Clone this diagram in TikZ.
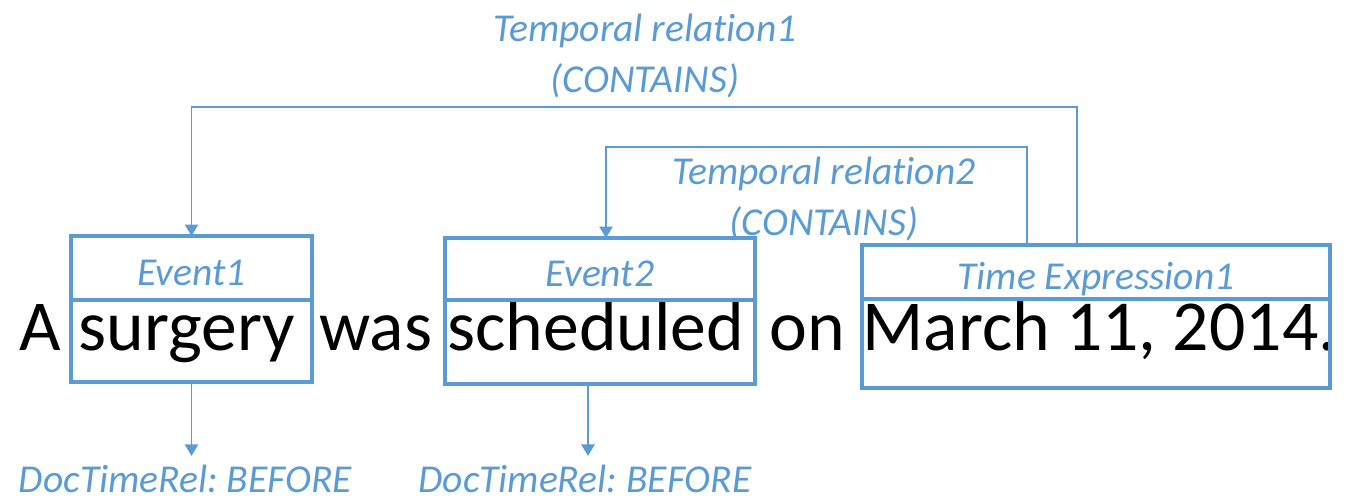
\documentclass[tikz,border=0pt]{standalone}
\usepackage{fontspec}
\setmainfont{Carlito}[Ligatures=NoCommon]
\frenchspacing
\usetikzlibrary{positioning, arrows.meta}
\definecolor{relblue}{RGB}{91,155,213}

\begin{document}
\begin{tikzpicture}[
    word/.style={font=\fontsize{40.8}{48}\selectfont, inner sep=0pt, anchor=base west},
    tag/.style={draw=relblue, line width=2pt, outer sep=0pt, inner sep=0pt,
        font=\fontsize{22.5}{27}\selectfont\itshape, text=relblue,
        text height=0.7cm, text depth=0pt},
    wordbox/.style={draw=relblue, line width=2pt, outer sep=0pt, inner sep=0pt},
    rellabel/.style={font=\fontsize{22.5}{28.5}\selectfont\itshape, text=relblue, align=center},
    link/.style={relblue, line width=1.1pt, -{Triangle[width=7.5pt, length=6.5pt]}},
]
    \useasboundingbox (0,0) rectangle (27.26,10);

    % The sentence
    \node[word] (wA) at (0.38, 2.98) {A};
    \node[word] (wSurgery) at (1.56, 2.98) {surgery};
    \node[word] (wWas) at (6.38, 2.98) {was};
    \node[word] (wScheduled) at (8.94, 2.98) {scheduled};
    \node[word] (wOn) at (15.38, 2.98) {on};
    \node[word] (wDate) at (17.24, 2.98) {March 11, 2014.};

    % Annotation boxes: tag on top, word part below
    \node[tag, minimum width=4.82cm, minimum height=1.28cm] (ev1) at (3.83, 4.64) {Event1};
    \node[wordbox, minimum width=4.82cm, minimum height=1.64cm, below=0pt of ev1] (ev1box) {};

    \node[tag, minimum width=6.2cm, minimum height=1.24cm] (ev2) at (12.0, 4.62) {Event2};
    \node[wordbox, minimum width=6.2cm, minimum height=1.68cm, below=0pt of ev2] (ev2box) {};

    \node[tag, minimum width=9.36cm, minimum height=1.08cm] (tx1) at (21.92, 4.56) {Time Expression1};
    \node[wordbox, minimum width=9.36cm, minimum height=1.78cm, below=0pt of tx1] (tx1box) {};

    % DocTimeRel of each event
    \node[rellabel, anchor=base, inner ysep=5pt] (dtr1) at (3.71, 0.15) {DocTimeRel: BEFORE};
    \node[rellabel, anchor=base, inner ysep=5pt] (dtr2) at (11.7, 0.15) {DocTimeRel: BEFORE};
    \draw[link] (ev1box) -- (ev1box |- dtr1.north);
    \draw[link] ([xshift=-0.24cm]ev2box.south) -- ([xshift=-0.24cm]ev2box.south |- dtr2.north);

    % Temporal relations from the time expression
    \draw[link] ([xshift=-0.38cm]tx1.north) -- ++(0,2.76) -| (ev1.north);
    \draw[link] ([xshift=-1.38cm]tx1.north) -- ++(0,1.96) -| ([xshift=0.12cm]ev2.north);
    \node[rellabel] (rel1) at (12.9, 8.88) {Temporal relation1\\(CONTAINS)};
    \node[rellabel] (rel2) at (16.48, 6.02) {Temporal relation2\\(CONTAINS)};
\end{tikzpicture}
\end{document}
